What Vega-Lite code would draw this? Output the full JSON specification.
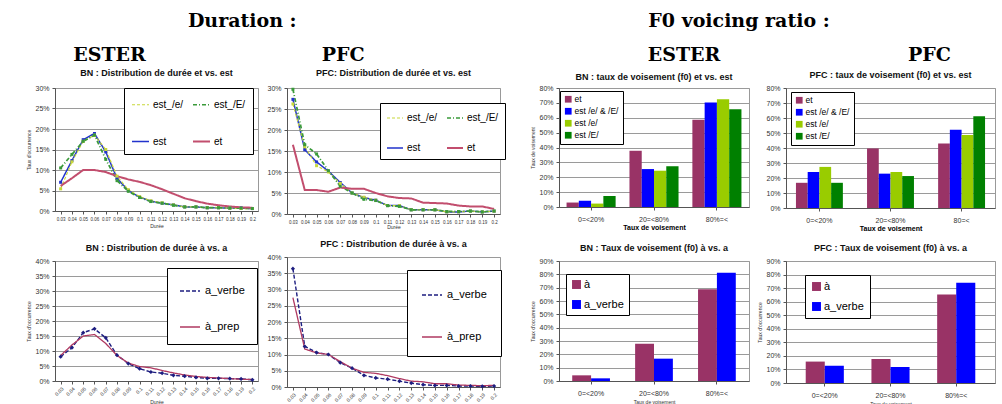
{
  "$schema": "https://vega.github.io/schema/vega-lite/v6.json",
  "background": "white",
  "padding": {"left": 26, "top": 11, "right": 0, "bottom": 0},
  "config": {
    "font": "Liberation Sans",
    "view": {"stroke": "#999999", "strokeWidth": 1},
    "axis": {"labelFont": "Liberation Sans", "titleFont": "Liberation Sans", "labelFontSize": 7, "labelColor": "#333333", "domainColor": "#555555", "tickColor": "#555555", "tickSize": 3, "gridColor": "#9a9a9a", "titleFontWeight": "normal", "titleFontSize": 5, "titleColor": "#333333", "labelPadding": 3, "titlePadding": 3},
    "axisX": {"grid": false},
    "axisY": {"grid": true},
    "title": {"font": "Liberation Sans", "fontSize": 9, "fontWeight": "bold", "color": "#111111"},
    "legend": {"labelFont": "Liberation Sans", "labelColor": "#000000"}
  },
  "datasets": {
    "p1": [
      {"d":"0.03","s":"est","v":7.0},{"d":"0.04","s":"est","v":12.3},{"d":"0.05","s":"est","v":17.4},{"d":"0.06","s":"est","v":18.9},{"d":"0.07","s":"est","v":14.4},{"d":"0.08","s":"est","v":8.0},{"d":"0.09","s":"est","v":5.0},{"d":"0.1","s":"est","v":3.4},{"d":"0.11","s":"est","v":2.4},{"d":"0.12","s":"est","v":1.9},{"d":"0.13","s":"est","v":1.5},{"d":"0.14","s":"est","v":1.0},{"d":"0.15","s":"est","v":1.0},{"d":"0.16","s":"est","v":0.8},{"d":"0.17","s":"est","v":0.8},{"d":"0.18","s":"est","v":0.7},{"d":"0.19","s":"est","v":0.7},{"d":"0.2","s":"est","v":0.6},
      {"d":"0.03","s":"est_/e/","v":5.4},{"d":"0.04","s":"est_/e/","v":12.0},{"d":"0.05","s":"est_/e/","v":17.0},{"d":"0.06","s":"est_/e/","v":18.5},{"d":"0.07","s":"est_/e/","v":15.0},{"d":"0.08","s":"est_/e/","v":8.5},{"d":"0.09","s":"est_/e/","v":5.2},{"d":"0.1","s":"est_/e/","v":3.5},{"d":"0.11","s":"est_/e/","v":2.5},{"d":"0.12","s":"est_/e/","v":2.0},{"d":"0.13","s":"est_/e/","v":1.5},{"d":"0.14","s":"est_/e/","v":1.0},{"d":"0.15","s":"est_/e/","v":1.0},{"d":"0.16","s":"est_/e/","v":0.8},{"d":"0.17","s":"est_/e/","v":0.8},{"d":"0.18","s":"est_/e/","v":0.7},{"d":"0.19","s":"est_/e/","v":0.6},{"d":"0.2","s":"est_/e/","v":0.6},
      {"d":"0.03","s":"est_/E/","v":10.5},{"d":"0.04","s":"est_/E/","v":13.8},{"d":"0.05","s":"est_/E/","v":17.0},{"d":"0.06","s":"est_/E/","v":18.5},{"d":"0.07","s":"est_/E/","v":12.6},{"d":"0.08","s":"est_/E/","v":7.4},{"d":"0.09","s":"est_/E/","v":4.8},{"d":"0.1","s":"est_/E/","v":3.3},{"d":"0.11","s":"est_/E/","v":2.3},{"d":"0.12","s":"est_/E/","v":1.9},{"d":"0.13","s":"est_/E/","v":1.4},{"d":"0.14","s":"est_/E/","v":1.0},{"d":"0.15","s":"est_/E/","v":1.0},{"d":"0.16","s":"est_/E/","v":0.8},{"d":"0.17","s":"est_/E/","v":0.8},{"d":"0.18","s":"est_/E/","v":0.7},{"d":"0.19","s":"est_/E/","v":0.7},{"d":"0.2","s":"est_/E/","v":0.6},
      {"d":"0.03","s":"et","v":6.1},{"d":"0.04","s":"et","v":8.0},{"d":"0.05","s":"et","v":10.0},{"d":"0.06","s":"et","v":10.0},{"d":"0.07","s":"et","v":9.5},{"d":"0.08","s":"et","v":8.5},{"d":"0.09","s":"et","v":7.7},{"d":"0.1","s":"et","v":7.1},{"d":"0.11","s":"et","v":6.3},{"d":"0.12","s":"et","v":5.3},{"d":"0.13","s":"et","v":4.2},{"d":"0.14","s":"et","v":3.1},{"d":"0.15","s":"et","v":2.4},{"d":"0.16","s":"et","v":1.8},{"d":"0.17","s":"et","v":1.4},{"d":"0.18","s":"et","v":1.1},{"d":"0.19","s":"et","v":0.9},{"d":"0.2","s":"et","v":0.8}
    ],
    "p2": [
      {"d":"0.03","s":"est","v":27.3},{"d":"0.04","s":"est","v":15.3},{"d":"0.05","s":"est","v":12.4},{"d":"0.06","s":"est","v":10.2},{"d":"0.07","s":"est","v":7.5},{"d":"0.08","s":"est","v":5.0},{"d":"0.09","s":"est","v":3.9},{"d":"0.1","s":"est","v":3.3},{"d":"0.11","s":"est","v":2.0},{"d":"0.12","s":"est","v":2.0},{"d":"0.13","s":"est","v":1.0},{"d":"0.14","s":"est","v":1.0},{"d":"0.15","s":"est","v":1.0},{"d":"0.16","s":"est","v":0.5},{"d":"0.17","s":"est","v":0.5},{"d":"0.18","s":"est","v":0.7},{"d":"0.19","s":"est","v":0.5},{"d":"0.2","s":"est","v":0.7},
      {"d":"0.03","s":"est_/e/","v":26.2},{"d":"0.04","s":"est_/e/","v":16.0},{"d":"0.05","s":"est_/e/","v":11.5},{"d":"0.06","s":"est_/e/","v":10.0},{"d":"0.07","s":"est_/e/","v":7.3},{"d":"0.08","s":"est_/e/","v":5.0},{"d":"0.09","s":"est_/e/","v":4.0},{"d":"0.1","s":"est_/e/","v":3.3},{"d":"0.11","s":"est_/e/","v":2.0},{"d":"0.12","s":"est_/e/","v":2.0},{"d":"0.13","s":"est_/e/","v":1.0},{"d":"0.14","s":"est_/e/","v":1.0},{"d":"0.15","s":"est_/e/","v":1.0},{"d":"0.16","s":"est_/e/","v":0.5},{"d":"0.17","s":"est_/e/","v":0.5},{"d":"0.18","s":"est_/e/","v":0.7},{"d":"0.19","s":"est_/e/","v":0.5},{"d":"0.2","s":"est_/e/","v":0.7},
      {"d":"0.03","s":"est_/E/","v":29.7},{"d":"0.04","s":"est_/E/","v":16.5},{"d":"0.05","s":"est_/E/","v":14.3},{"d":"0.06","s":"est_/E/","v":10.3},{"d":"0.07","s":"est_/E/","v":6.6},{"d":"0.08","s":"est_/E/","v":5.0},{"d":"0.09","s":"est_/E/","v":3.5},{"d":"0.1","s":"est_/E/","v":3.2},{"d":"0.11","s":"est_/E/","v":2.0},{"d":"0.12","s":"est_/E/","v":1.8},{"d":"0.13","s":"est_/E/","v":1.0},{"d":"0.14","s":"est_/E/","v":1.0},{"d":"0.15","s":"est_/E/","v":1.0},{"d":"0.16","s":"est_/E/","v":0.6},{"d":"0.17","s":"est_/E/","v":0.6},{"d":"0.18","s":"est_/E/","v":0.7},{"d":"0.19","s":"est_/E/","v":0.5},{"d":"0.2","s":"est_/E/","v":0.7},
      {"d":"0.03","s":"et","v":16.5},{"d":"0.04","s":"et","v":5.7},{"d":"0.05","s":"et","v":5.7},{"d":"0.06","s":"et","v":5.3},{"d":"0.07","s":"et","v":6.3},{"d":"0.08","s":"et","v":6.0},{"d":"0.09","s":"et","v":6.0},{"d":"0.1","s":"et","v":5.0},{"d":"0.11","s":"et","v":4.2},{"d":"0.12","s":"et","v":3.8},{"d":"0.13","s":"et","v":3.7},{"d":"0.14","s":"et","v":2.7},{"d":"0.15","s":"et","v":2.6},{"d":"0.16","s":"et","v":2.5},{"d":"0.17","s":"et","v":2.0},{"d":"0.18","s":"et","v":1.8},{"d":"0.19","s":"et","v":1.8},{"d":"0.2","s":"et","v":1.2}
    ],
    "p3": [
      {"d":"0.03","s":"a_verbe","v":8.1},{"d":"0.04","s":"a_verbe","v":11.1},{"d":"0.05","s":"a_verbe","v":16.1},{"d":"0.06","s":"a_verbe","v":17.4},{"d":"0.07","s":"a_verbe","v":14.4},{"d":"0.08","s":"a_verbe","v":8.6},{"d":"0.09","s":"a_verbe","v":5.8},{"d":"0.1","s":"a_verbe","v":4.1},{"d":"0.11","s":"a_verbe","v":3.0},{"d":"0.12","s":"a_verbe","v":2.6},{"d":"0.13","s":"a_verbe","v":1.9},{"d":"0.14","s":"a_verbe","v":1.6},{"d":"0.15","s":"a_verbe","v":1.2},{"d":"0.16","s":"a_verbe","v":0.9},{"d":"0.17","s":"a_verbe","v":0.9},{"d":"0.18","s":"a_verbe","v":0.8},{"d":"0.19","s":"a_verbe","v":0.7},{"d":"0.2","s":"a_verbe","v":0.4},
      {"d":"0.03","s":"à_prep","v":8.5},{"d":"0.04","s":"à_prep","v":12.0},{"d":"0.05","s":"à_prep","v":15.0},{"d":"0.06","s":"à_prep","v":15.5},{"d":"0.07","s":"à_prep","v":12.5},{"d":"0.08","s":"à_prep","v":8.5},{"d":"0.09","s":"à_prep","v":6.0},{"d":"0.1","s":"à_prep","v":4.8},{"d":"0.11","s":"à_prep","v":4.4},{"d":"0.12","s":"à_prep","v":3.5},{"d":"0.13","s":"à_prep","v":2.7},{"d":"0.14","s":"à_prep","v":2.0},{"d":"0.15","s":"à_prep","v":1.5},{"d":"0.16","s":"à_prep","v":1.2},{"d":"0.17","s":"à_prep","v":1.0},{"d":"0.18","s":"à_prep","v":0.8},{"d":"0.19","s":"à_prep","v":0.6},{"d":"0.2","s":"à_prep","v":0.5}
    ],
    "p4": [
      {"d":"0.03","s":"a_verbe","v":36.4},{"d":"0.04","s":"a_verbe","v":12.5},{"d":"0.05","s":"a_verbe","v":10.6},{"d":"0.06","s":"a_verbe","v":10.0},{"d":"0.07","s":"a_verbe","v":7.5},{"d":"0.08","s":"a_verbe","v":5.8},{"d":"0.09","s":"a_verbe","v":3.6},{"d":"0.1","s":"a_verbe","v":2.8},{"d":"0.11","s":"a_verbe","v":2.4},{"d":"0.12","s":"a_verbe","v":1.8},{"d":"0.13","s":"a_verbe","v":1.2},{"d":"0.14","s":"a_verbe","v":0.7},{"d":"0.15","s":"a_verbe","v":0.5},{"d":"0.16","s":"a_verbe","v":0.5},{"d":"0.17","s":"a_verbe","v":0.3},{"d":"0.18","s":"a_verbe","v":0.3},{"d":"0.19","s":"a_verbe","v":0.2},{"d":"0.2","s":"a_verbe","v":0.3},
      {"d":"0.03","s":"à_prep","v":27.5},{"d":"0.04","s":"à_prep","v":11.7},{"d":"0.05","s":"à_prep","v":10.5},{"d":"0.06","s":"à_prep","v":10.0},{"d":"0.07","s":"à_prep","v":7.8},{"d":"0.08","s":"à_prep","v":5.8},{"d":"0.09","s":"à_prep","v":4.5},{"d":"0.1","s":"à_prep","v":4.2},{"d":"0.11","s":"à_prep","v":3.5},{"d":"0.12","s":"à_prep","v":2.6},{"d":"0.13","s":"à_prep","v":1.8},{"d":"0.14","s":"à_prep","v":1.6},{"d":"0.15","s":"à_prep","v":1.0},{"d":"0.16","s":"à_prep","v":1.0},{"d":"0.17","s":"à_prep","v":0.6},{"d":"0.18","s":"à_prep","v":0.5},{"d":"0.19","s":"à_prep","v":0.4},{"d":"0.2","s":"à_prep","v":0.5}
    ],
    "b5": [
      {"c":"0=<20%","s":"et","v":3.0},{"c":"0=<20%","s":"est /e/ & /E/","v":4.2},{"c":"0=<20%","s":"est /e/","v":2.3},{"c":"0=<20%","s":"est /E/","v":7.4},
      {"c":"20=<80%","s":"et","v":37.8},{"c":"20=<80%","s":"est /e/ & /E/","v":25.5},{"c":"20=<80%","s":"est /e/","v":24.4},{"c":"20=<80%","s":"est /E/","v":27.4},
      {"c":"80%=<","s":"et","v":58.7},{"c":"80%=<","s":"est /e/ & /E/","v":70.3},{"c":"80%=<","s":"est /e/","v":72.4},{"c":"80%=<","s":"est /E/","v":65.7}
    ],
    "b6": [
      {"c":"0=<20%","s":"et","v":16.8},{"c":"0=<20%","s":"est /e/ & /E/","v":24.0},{"c":"0=<20%","s":"est /e/","v":27.4},{"c":"0=<20%","s":"est /E/","v":16.8},
      {"c":"20=<80%","s":"et","v":39.7},{"c":"20=<80%","s":"est /e/ & /E/","v":22.9},{"c":"20=<80%","s":"est /e/","v":24.0},{"c":"20=<80%","s":"est /E/","v":21.3},
      {"c":"80=<","s":"et","v":43.0},{"c":"80=<","s":"est /e/ & /E/","v":52.2},{"c":"80=<","s":"est /e/","v":48.7},{"c":"80=<","s":"est /E/","v":61.2}
    ],
    "b7": [
      {"c":"0=<20%","s":"à","v":4.25},{"c":"0=<20%","s":"a_verbe","v":2.0},
      {"c":"20=<80%","s":"à","v":28.0},{"c":"20=<80%","s":"a_verbe","v":16.75},
      {"c":"80%=<","s":"à","v":68.75},{"c":"80%=<","s":"a_verbe","v":81.25}
    ],
    "b8": [
      {"c":"0=<20%","s":"à","v":15.8},{"c":"0=<20%","s":"a_verbe","v":12.8},
      {"c":"20=<80%","s":"à","v":17.7},{"c":"20=<80%","s":"a_verbe","v":11.8},
      {"c":"80%=<","s":"à","v":65.3},{"c":"80%=<","s":"a_verbe","v":73.9}
    ]
  },
  "spacing": 24,
  "resolve": {"scale": {"color": "independent", "strokeDash": "independent", "strokeWidth": "independent", "x": "independent", "y": "independent"}, "legend": {"color": "independent", "strokeDash": "independent"}},
  "hconcat": [
    {
      "title": {"text": "Duration :", "font": "DejaVu Serif", "fontSize": 19, "fontWeight": "bold", "color": "#000000", "anchor": "middle", "offset": 15, "dx": -24},
      "spacing": 7,
      "resolve": {"scale": {"color": "independent", "strokeDash": "independent", "strokeWidth": "independent", "x": "independent", "y": "independent"}, "legend": {"color": "independent", "strokeDash": "independent"}},
      "hconcat": [
        {
          "title": {"text": "ESTER", "font": "DejaVu Serif", "fontSize": 19, "fontWeight": "bold", "color": "#000000", "anchor": "middle", "offset": 4, "dx": -33},
          "spacing": 14,
          "resolve": {"scale": {"color": "independent", "strokeDash": "independent", "strokeWidth": "independent", "x": "independent", "y": "independent"}, "legend": {"color": "independent", "strokeDash": "independent"}},
          "vconcat": [
            {
              "width": 203, "height": 123,
              "title": {"text": "BN : Distribution de durée et vs. est", "offset": 6},
              "data": {"name": "p1"},
              "encoding": {
                "x": {"field": "d", "type": "ordinal", "scale": {"type": "point", "padding": 0.5, "domain": ["0.03","0.04","0.05","0.06","0.07","0.08","0.09","0.1","0.11","0.12","0.13","0.14","0.15","0.16","0.17","0.18","0.19","0.2"]}, "axis": {"title": "Durée", "labelAngle": 0, "labelFontSize": 4.5, "labelPadding": 2}},
                "y": {"field": "v", "type": "quantitative", "scale": {"domain": [0, 30]}, "axis": {"values": [0,5,10,15,20,25,30], "labelExpr": "datum.value + '%'", "title": "Taux d'occurrence"}},
                "color": {"field": "s", "type": "nominal", "scale": {"domain": ["est_/e/","est","est_/E/","et"], "range": ["#C8D83A","#2233CC","#3A9A3A","#C24E6E"]},
                  "legend": {"title": null, "orient": "none", "legendX": 69, "legendY": 0, "columns": 2, "fillColor": "white", "strokeColor": "#000000", "padding": 7, "rowPadding": 22, "columnPadding": 5, "symbolType": "stroke", "symbolSize": 289, "symbolStrokeWidth": 1.5, "labelFontSize": 10, "labelOffset": 3, "labelLimit": 200}}
              },
              "layer": [
                {"mark": {"type": "line"}, "encoding": {
                  "strokeDash": {"field": "s", "type": "nominal", "scale": {"domain": ["est_/e/","est","est_/E/","et"], "range": [[3,2],[1,0],[4,2,1,2],[1,0]]}},
                  "strokeWidth": {"field": "s", "type": "nominal", "scale": {"domain": ["est_/e/","est","est_/E/","et"], "range": [1.2,2,1.2,1.2]}, "legend": null}}},
                {"mark": {"type": "point", "filled": true, "shape": "square", "size": 9, "opacity": 1}, "transform": [{"filter": "datum.s != 'et'"}]}
              ]
            },
            {
              "width": 203, "height": 120,
              "title": {"text": "BN : Distribution de durée à vs. a", "offset": 4},
              "data": {"name": "p3"},
              "encoding": {
                "x": {"field": "d", "type": "ordinal", "scale": {"type": "point", "padding": 0.5, "domain": ["0.03","0.04","0.05","0.06","0.07","0.08","0.09","0.1","0.11","0.12","0.13","0.14","0.15","0.16","0.17","0.18","0.19","0.2"]}, "axis": {"title": "Durée", "labelAngle": -45, "labelFontSize": 5, "labelPadding": 2}},
                "y": {"field": "v", "type": "quantitative", "scale": {"domain": [0, 40]}, "axis": {"values": [0,5,10,15,20,25,30,35,40], "labelExpr": "datum.value + '%'", "title": "Taux d'occurrence"}},
                "color": {"field": "s", "type": "nominal", "scale": {"domain": ["a_verbe","à_prep"], "range": ["#1E1E80","#B03A62"]},
                  "legend": {"title": null, "orient": "none", "legendX": 112, "legendY": 7, "fillColor": "white", "strokeColor": "#000000", "padding": 12, "rowPadding": 20, "symbolType": "stroke", "symbolSize": 400, "symbolStrokeWidth": 1.5, "labelFontSize": 11}}
              },
              "layer": [
                {"mark": {"type": "line"}, "encoding": {
                  "strokeDash": {"field": "s", "type": "nominal", "scale": {"domain": ["a_verbe","à_prep"], "range": [[4,2],[1,0]]}},
                  "strokeWidth": {"field": "s", "type": "nominal", "scale": {"domain": ["a_verbe","à_prep"], "range": [1.4,1.3]}, "legend": null}}},
                {"mark": {"type": "point", "filled": true, "shape": "diamond", "size": 18, "opacity": 1}, "transform": [{"filter": "datum.s == 'a_verbe'"}]}
              ]
            }
          ]
        },
        {
          "title": {"text": "PFC", "font": "DejaVu Serif", "fontSize": 19, "fontWeight": "bold", "color": "#000000", "anchor": "middle", "offset": 4, "dx": -43},
          "spacing": 9,
          "resolve": {"scale": {"color": "independent", "strokeDash": "independent", "strokeWidth": "independent", "x": "independent", "y": "independent"}, "legend": {"color": "independent", "strokeDash": "independent"}},
          "vconcat": [
            {
              "width": 213, "height": 126,
              "title": {"text": "PFC: Distribution de durée et vs. est", "offset": 6},
              "data": {"name": "p2"},
              "encoding": {
                "x": {"field": "d", "type": "ordinal", "scale": {"type": "point", "padding": 0.5, "domain": ["0.03","0.04","0.05","0.06","0.07","0.08","0.09","0.1","0.11","0.12","0.13","0.14","0.15","0.16","0.17","0.18","0.19","0.2"]}, "axis": {"title": "Durée", "labelAngle": 0, "labelFontSize": 4.5, "labelPadding": 2, "titlePadding": 1}},
                "y": {"field": "v", "type": "quantitative", "scale": {"domain": [0, 30]}, "axis": {"values": [0,5,10,15,20,25,30], "labelExpr": "datum.value + '%'", "title": null}},
                "color": {"field": "s", "type": "nominal", "scale": {"domain": ["est_/e/","est","est_/E/","et"], "range": ["#C8D83A","#2233CC","#3A9A3A","#C24E6E"]},
                  "legend": {"title": null, "orient": "none", "legendX": 93, "legendY": 15, "columns": 2, "fillColor": "white", "strokeColor": "#000000", "padding": 6, "rowPadding": 16, "columnPadding": 5, "symbolType": "stroke", "symbolSize": 256, "symbolStrokeWidth": 1.5, "labelFontSize": 10, "labelOffset": 3, "labelLimit": 200}}
              },
              "layer": [
                {"mark": {"type": "line"}, "encoding": {
                  "strokeDash": {"field": "s", "type": "nominal", "scale": {"domain": ["est_/e/","est","est_/E/","et"], "range": [[3,2],[1,0],[4,2,1,2],[1,0]]}},
                  "strokeWidth": {"field": "s", "type": "nominal", "scale": {"domain": ["est_/e/","est","est_/E/","et"], "range": [1.2,2,1.2,1.2]}, "legend": null}}},
                {"mark": {"type": "point", "filled": true, "shape": "square", "size": 9, "opacity": 1}, "transform": [{"filter": "datum.s != 'et'"}]}
              ]
            },
            {
              "width": 213, "height": 130,
              "title": {"text": "PFC : Distribution de durée à vs. a", "offset": 4},
              "data": {"name": "p4"},
              "encoding": {
                "x": {"field": "d", "type": "ordinal", "scale": {"type": "point", "padding": 0.5, "domain": ["0.03","0.04","0.05","0.06","0.07","0.08","0.09","0.1","0.11","0.12","0.13","0.14","0.15","0.16","0.17","0.18","0.19","0.2"]}, "axis": {"title": "Durée", "labelAngle": -45, "labelFontSize": 5, "labelPadding": 2}},
                "y": {"field": "v", "type": "quantitative", "scale": {"domain": [0, 40]}, "axis": {"values": [0,5,10,15,20,25,30,35,40], "labelExpr": "datum.value + '%'", "title": null}},
                "color": {"field": "s", "type": "nominal", "scale": {"domain": ["a_verbe","à_prep"], "range": ["#1E1E80","#B03A62"]},
                  "legend": {"title": null, "orient": "none", "legendX": 120, "legendY": 13, "fillColor": "white", "strokeColor": "#000000", "padding": 14, "rowPadding": 26, "symbolType": "stroke", "symbolSize": 400, "symbolStrokeWidth": 1.5, "labelFontSize": 11}}
              },
              "layer": [
                {"mark": {"type": "line"}, "encoding": {
                  "strokeDash": {"field": "s", "type": "nominal", "scale": {"domain": ["a_verbe","à_prep"], "range": [[4,2],[1,0]]}},
                  "strokeWidth": {"field": "s", "type": "nominal", "scale": {"domain": ["a_verbe","à_prep"], "range": [1.4,1.3]}, "legend": null}}},
                {"mark": {"type": "point", "filled": true, "shape": "diamond", "size": 18, "opacity": 1}, "transform": [{"filter": "datum.s == 'a_verbe'"}]}
              ]
            }
          ]
        }
      ]
    },
    {
      "title": {"text": "F0 voicing ratio :", "font": "DejaVu Serif", "fontSize": 19, "fontWeight": "bold", "color": "#000000", "anchor": "middle", "offset": 15, "dx": -24},
      "spacing": 7,
      "resolve": {"scale": {"color": "independent", "x": "independent", "y": "independent", "xOffset": "independent"}, "legend": {"color": "independent"}},
      "hconcat": [
        {
          "title": {"text": "ESTER", "font": "DejaVu Serif", "fontSize": 19, "fontWeight": "bold", "color": "#000000", "anchor": "middle", "offset": 8, "dx": 44},
          "spacing": 12,
          "resolve": {"scale": {"color": "independent", "x": "independent", "y": "independent", "xOffset": "independent"}, "legend": {"color": "independent"}},
          "vconcat": [
            {
              "width": 190, "height": 119,
              "title": {"text": "BN : taux de voisement (f0) et vs. est", "offset": 2},
              "data": {"name": "b5"},
              "mark": {"type": "bar"},
              "encoding": {
                "x": {"field": "c", "type": "nominal", "scale": {"domain": ["0=<20%","20=<80%","80%=<"], "paddingInner": 0.22, "paddingOuter": 0.12}, "axis": {"title": "Taux de voisement", "labelAngle": 0, "titleFontWeight": "bold", "titleFontSize": 7, "titleColor": "#000000", "labelPadding": 5, "titlePadding": 1}},
                "xOffset": {"field": "s", "type": "nominal", "scale": {"domain": ["et","est /e/ & /E/","est /e/","est /E/"]}},
                "y": {"field": "v", "type": "quantitative", "scale": {"domain": [0, 80]}, "axis": {"values": [0,10,20,30,40,50,60,70,80], "labelExpr": "datum.value + '%'", "title": "Taux de voisement"}},
                "color": {"field": "s", "type": "nominal", "scale": {"domain": ["et","est /e/ & /E/","est /e/","est /E/"], "range": ["#993366","#0000FF","#99CC00","#008000"]},
                  "legend": {"title": null, "orient": "none", "legendX": 1, "legendY": 3, "fillColor": "white", "strokeColor": "#000000", "padding": 4, "rowPadding": 3, "symbolType": "square", "symbolSize": 45, "symbolStrokeWidth": 0, "labelFontSize": 8.5, "labelOffset": 2}}
              }
            },
            {
              "width": 190, "height": 120,
              "title": {"text": "BN : Taux de voisement (f0) à vs. a", "offset": 4},
              "data": {"name": "b7"},
              "mark": {"type": "bar"},
              "encoding": {
                "x": {"field": "c", "type": "nominal", "scale": {"domain": ["0=<20%","20=<80%","80%=<"], "paddingInner": 0.4, "paddingOuter": 0.21}, "axis": {"title": "Taux de voisement", "labelAngle": 0, "labelPadding": 5}},
                "xOffset": {"field": "s", "type": "nominal", "scale": {"domain": ["à","a_verbe"]}},
                "y": {"field": "v", "type": "quantitative", "scale": {"domain": [0, 90]}, "axis": {"values": [0,10,20,30,40,50,60,70,80,90], "labelExpr": "datum.value + '%'", "title": "Taux d'occurrence"}},
                "color": {"field": "s", "type": "nominal", "scale": {"domain": ["à","a_verbe"], "range": ["#993366","#0000FF"]},
                  "legend": {"title": null, "orient": "none", "legendX": 7, "legendY": 13, "fillColor": "white", "strokeColor": "#000000", "padding": 5, "rowPadding": 8, "symbolType": "square", "symbolSize": 80, "symbolStrokeWidth": 0, "labelFontSize": 11, "labelOffset": 2}}
              }
            }
          ]
        },
        {
          "title": {"text": "PFC", "font": "DejaVu Serif", "fontSize": 19, "fontWeight": "bold", "color": "#000000", "anchor": "middle", "offset": 6, "dx": 53},
          "spacing": 11,
          "resolve": {"scale": {"color": "independent", "x": "independent", "y": "independent", "xOffset": "independent"}, "legend": {"color": "independent"}},
          "vconcat": [
            {
              "width": 209, "height": 120,
              "title": {"text": "PFC : taux de voisement (f0) et vs. est", "offset": 4},
              "data": {"name": "b6"},
              "mark": {"type": "bar"},
              "encoding": {
                "x": {"field": "c", "type": "nominal", "scale": {"domain": ["0=<20%","20=<80%","80=<"], "paddingInner": 0.34, "paddingOuter": 0.14}, "axis": {"title": "Taux de voisement", "labelAngle": 0, "titleFontWeight": "bold", "titleFontSize": 7, "titleColor": "#000000", "labelPadding": 5, "titlePadding": 1}},
                "xOffset": {"field": "s", "type": "nominal", "scale": {"domain": ["et","est /e/ & /E/","est /e/","est /E/"]}},
                "y": {"field": "v", "type": "quantitative", "scale": {"domain": [0, 80]}, "axis": {"values": [0,10,20,30,40,50,60,70,80], "labelExpr": "datum.value + '%'", "title": null}},
                "color": {"field": "s", "type": "nominal", "scale": {"domain": ["et","est /e/ & /E/","est /e/","est /E/"], "range": ["#993366","#0000FF","#99CC00","#008000"]},
                  "legend": {"title": null, "orient": "none", "legendX": 5, "legendY": 4, "fillColor": "white", "strokeColor": "#000000", "padding": 4, "rowPadding": 3, "symbolType": "square", "symbolSize": 45, "symbolStrokeWidth": 0, "labelFontSize": 8.5, "labelOffset": 2}}
              }
            },
            {
              "width": 209, "height": 122,
              "title": {"text": "PFC : Taux de voisement (f0) à vs. a", "offset": 4},
              "data": {"name": "b8"},
              "mark": {"type": "bar"},
              "encoding": {
                "x": {"field": "c", "type": "nominal", "scale": {"domain": ["0=<20%","20=<80%","80%=<"], "paddingInner": 0.42, "paddingOuter": 0.3}, "axis": {"title": "Taux de voisement", "labelAngle": 0, "labelPadding": 5}},
                "xOffset": {"field": "s", "type": "nominal", "scale": {"domain": ["à","a_verbe"]}},
                "y": {"field": "v", "type": "quantitative", "scale": {"domain": [0, 90]}, "axis": {"values": [0,10,20,30,40,50,60,70,80,90], "labelExpr": "datum.value + '%'", "title": "Taux d'occurrence"}},
                "color": {"field": "s", "type": "nominal", "scale": {"domain": ["à","a_verbe"], "range": ["#993366","#0000FF"]},
                  "legend": {"title": null, "orient": "none", "legendX": 19, "legendY": 14, "fillColor": "white", "strokeColor": "#000000", "padding": 6, "rowPadding": 8, "symbolType": "square", "symbolSize": 80, "symbolStrokeWidth": 0, "labelFontSize": 11, "labelOffset": 2}}
              }
            }
          ]
        }
      ]
    }
  ]
}
